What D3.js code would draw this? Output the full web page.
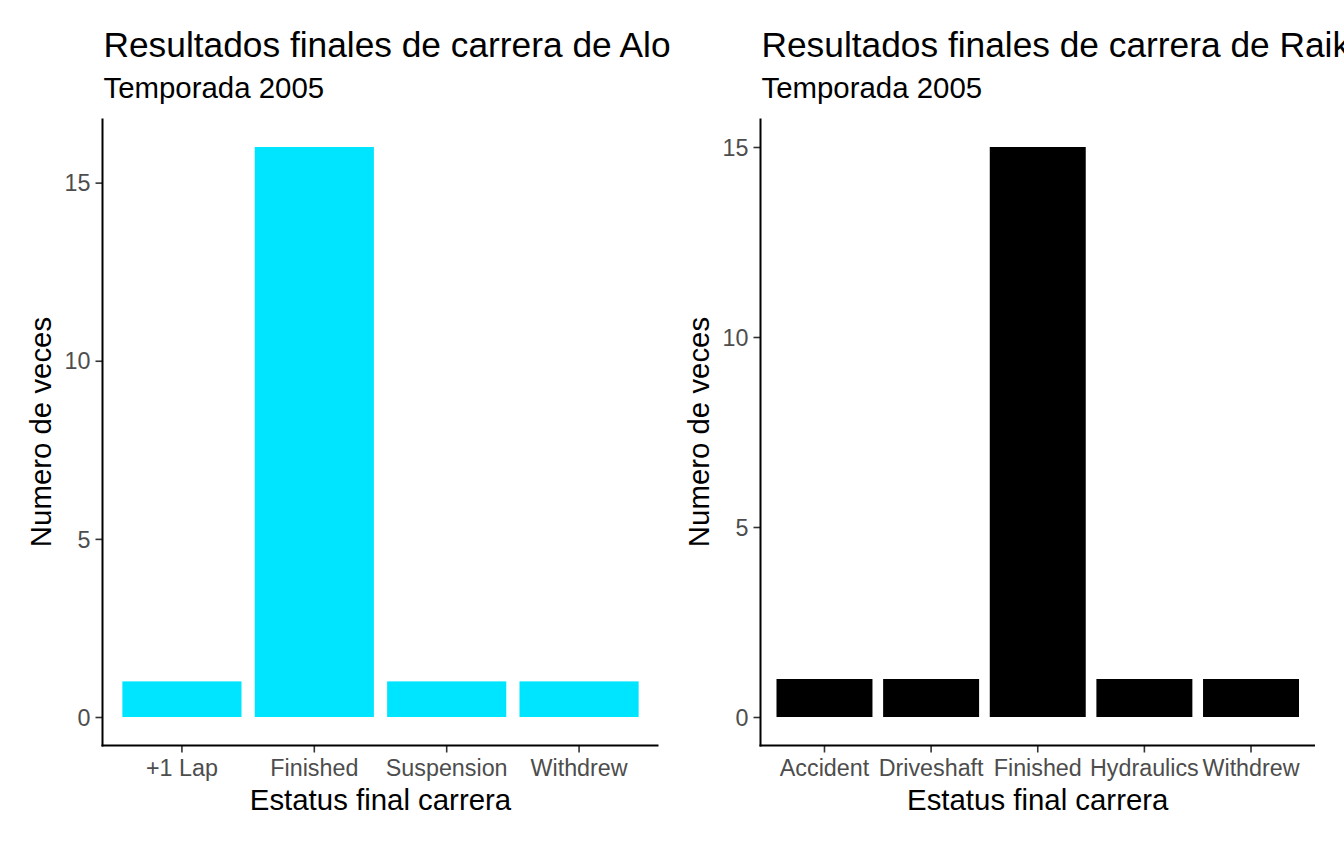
<!DOCTYPE html>
<html><head><meta charset="utf-8">
<script src="https://cdn.jsdelivr.net/npm/d3@7"></script>
<style>body{margin:0;background:#fff}svg{display:block;font-family:"Liberation Sans",Arial,Helvetica,sans-serif}</style>
</head><body>
<svg id="c" width="1344" height="844"></svg>
<script>
const leftCategories = ["+1 Lap","Finished","Suspension","Withdrew"];
const leftValues = [1,16,1,1];
const rightCategories = ["Accident","Driveshaft","Finished","Hydraulics","Withdrew"];
const rightValues = [1,1,15,1,1];
const yTicks = [0,5,10,15];
const titles = ["Resultados finales de carrera de Alonso","Resultados finales de carrera de Raikkonen"];
const subtitle = "Temporada 2005";
const xTitle = "Estatus final carrera";
const yTitle = "Numero de veces";
const colors = ["#00E5FF","#000000"];

const svg = d3.select("#c");
const defs = svg.append("defs");

const panels = [
  {cats:leftCategories, vals:leftValues, x0:0, x1:672, axL:102.5, axR:658.5, title:titles[0], color:colors[0]},
  {cats:rightCategories, vals:rightValues, x0:672, x1:1344, axL:760.5, axR:1315, title:titles[1], color:colors[1]}
];
const plotTop = 118.5, plotBottom = 745.5;

panels.forEach((p,i)=>{
  defs.append("clipPath").attr("id","cp"+i).append("rect")
    .attr("x",p.x0).attr("y",0).attr("width",p.x1-p.x0).attr("height",844);
  const g = svg.append("g").attr("clip-path",`url(#cp${i})`);
  const maxV = d3.max(p.vals);
  const y = d3.scaleLinear().domain([-0.05*maxV, maxV*1.05]).range([plotBottom, plotTop]);
  const x = d3.scaleBand().domain(p.cats).range([p.axL,p.axR]).paddingInner(0.1).paddingOuter(0.15);
  g.selectAll("rect.bar").data(p.cats).join("rect").attr("class","bar")
    .attr("x",d=>x(d)).attr("width",x.bandwidth())
    .attr("y",(d,k)=>y(p.vals[k])).attr("height",(d,k)=>y(0)-y(p.vals[k]))
    .attr("fill",p.color);
  const ya = g.append("g").attr("transform",`translate(${p.axL},0)`)
    .call(d3.axisLeft(y).tickValues(yTicks).tickSize(7).tickPadding(5));
  ya.select(".domain").remove();
  ya.selectAll(".tick line").attr("stroke","#333").attr("stroke-width",1.6);
  ya.selectAll(".tick text").attr("fill","#4D4D4D").attr("font-size",23.3).attr("dy","0.35em");
  g.append("line").attr("x1",p.axL).attr("x2",p.axL).attr("y1",plotTop).attr("y2",plotBottom+1)
    .attr("stroke","#000").attr("stroke-width",2);
  const xa = g.append("g").attr("transform",`translate(0,${plotBottom})`)
    .call(d3.axisBottom(x).tickSize(7).tickPadding(7));
  xa.select(".domain").remove();
  xa.selectAll(".tick line").attr("stroke","#333").attr("stroke-width",1.6);
  xa.selectAll(".tick text").attr("fill","#4D4D4D").attr("font-size",23.3).attr("dy","0.71em");
  g.append("line").attr("x1",p.axL-1).attr("x2",p.axR).attr("y1",plotBottom).attr("y2",plotBottom)
    .attr("stroke","#000").attr("stroke-width",2);
  g.append("text").attr("x",p.axL+1).attr("y",57).attr("font-size",35.3).attr("fill","#000").text(p.title);
  g.append("text").attr("x",p.axL+1).attr("y",98).attr("font-size",29.4).attr("fill","#000").text(subtitle);
  g.append("text").attr("x",(p.axL+p.axR)/2).attr("y",810).attr("text-anchor","middle")
    .attr("font-size",29.4).attr("fill","#000").text(xTitle);
  g.append("text").attr("transform",`translate(${p.axL-52},${(plotTop+plotBottom)/2}) rotate(-90)`)
    .attr("text-anchor","middle").attr("font-size",29.4).attr("fill","#000").text(yTitle);
});
</script>
</body></html>
